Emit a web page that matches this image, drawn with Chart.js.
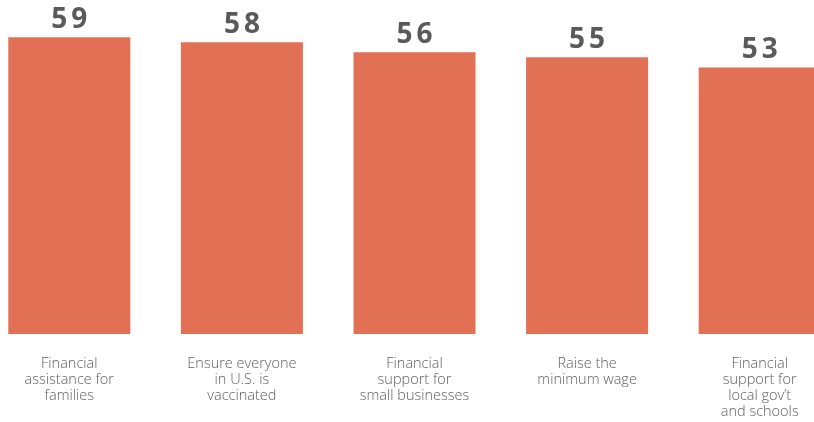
<!DOCTYPE html>
<html>
<head>
<meta charset="utf-8">
<script src="https://cdn.jsdelivr.net/npm/chart.js@4/dist/chart.umd.min.js"></script>
<style>
  html, body { margin: 0; padding: 0; background: #ffffff; overflow: hidden; width: 814px; height: 422px; }
  #wrap { position: absolute; left: -17px; top: 0; width: 863px; height: 422px; }
</style>
</head>
<body>
<div id="wrap"><canvas id="c"></canvas></div>
<script>
const categories = [
  ["Financial", "assistance for", "families"],
  ["Ensure everyone", "in U.S. is", "vaccinated"],
  ["Financial", "support for", "small businesses"],
  ["Raise the", "minimum wage"],
  ["Financial", "support for", "local gov\u2019t", "and schools"]
];
const values = [59, 58, 56, 55, 53];

const valueLabels = {
  id: 'valueLabels',
  afterDatasetsDraw(chart) {
    const ctx = chart.ctx;
    const meta = chart.getDatasetMeta(0);
    ctx.save();
    ctx.font = 'bold 28px "Open Sans", "DejaVu Sans", sans-serif';
    ctx.fillStyle = '#5a5a5a';
    ctx.textAlign = 'center';
    ctx.textBaseline = 'alphabetic';
    const sp = 4;
    if ('letterSpacing' in ctx) ctx.letterSpacing = sp + 'px';
    meta.data.forEach((bar, i) => {
      ctx.fillText(String(values[i]), bar.x + sp / 2, bar.y - 9);
    });
    ctx.restore();
  }
};

new Chart(document.getElementById('c'), {
  type: 'bar',
  data: {
    labels: categories,
    datasets: [{
      data: values,
      backgroundColor: '#e27055',
      borderWidth: 0,
      barPercentage: 0.707,
      categoryPercentage: 1.0
    }]
  },
  options: {
    responsive: true,
    maintainAspectRatio: false,
    animation: false,
    layout: { padding: 0 },
    plugins: { legend: { display: false }, tooltip: { enabled: false } },
    scales: {
      x: {
        grid: { display: false, drawTicks: false },
        border: { display: false },
        ticks: {
          color: '#606060',
          font: { family: '"Open Sans", Lato, sans-serif', size: 14.5, weight: '300', lineHeight: '16px' },
          padding: 22,
          maxRotation: 0,
          autoSkip: false
        },
        afterFit(scale) { scale.height = 88; }
      },
      y: {
        display: false,
        min: 0,
        max: 66.4
      }
    }
  },
  plugins: [valueLabels]
});
</script>
</body>
</html>
